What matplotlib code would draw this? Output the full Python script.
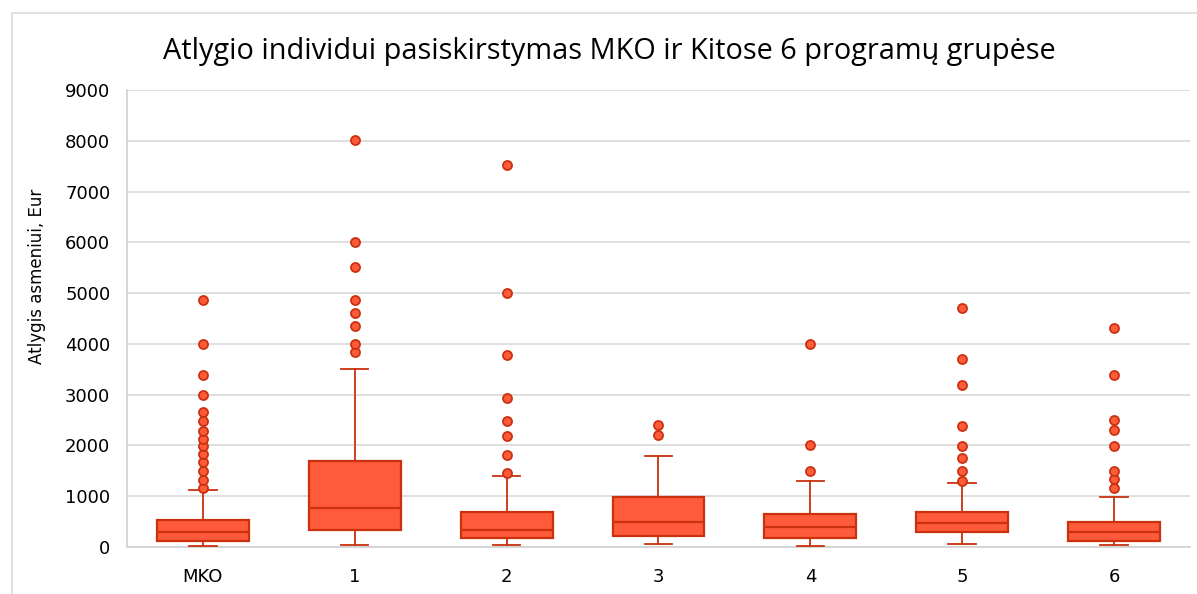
import matplotlib
matplotlib.use("Agg")
import matplotlib.pyplot as plt
from matplotlib.patches import Rectangle


# -----------------------------
# Data
# -----------------------------

groups = ["MKO", "1", "2", "3", "4", "5", "6"]

whisker_low = [20, 40, 33, 60, 20, 60, 40]
q1 = [118, 328, 184, 216, 187, 295, 125]
median = [290, 778, 335, 490, 397, 476, 290]
q3 = [538, 1700, 695, 985, 643, 698, 500]
whisker_high = [1118, 3500, 1390, 1790, 1300, 1254, 980]

outliers = [
    [1165, 1320, 1500, 1677, 1840, 1990, 2135, 2290, 2488, 2658, 3000, 3390, 4000, 4864],
    [3846, 4000, 4352, 4602, 4864, 5508, 6006, 8021],
    [1450, 1805, 2190, 2481, 2934, 3790, 5002, 7516],
    [2200, 2400],
    [1500, 2000, 4000],
    [1300, 1500, 1745, 1995, 2375, 3195, 3702, 4700],
    [1155, 1339, 1503, 1995, 2310, 2494, 3394, 4306],
]

y_ticks = [0, 1000, 2000, 3000, 4000, 5000, 6000, 7000, 8000, 9000]

title = "Atlygio individui pasiskirstymas MKO ir Kitose 6 programų grupėse"
y_label = "Atlygis asmeniui, Eur"


# -----------------------------
# Styling
# -----------------------------

fill_color = "#FF5A3A"
edge_color = "#C9310F"
grid_color = "#DCDCDC"

stats = []
for i in range(len(groups)):
    stats.append({
        "label": groups[i],
        "whislo": whisker_low[i],
        "q1": q1[i],
        "med": median[i],
        "q3": q3[i],
        "whishi": whisker_high[i],
        "fliers": outliers[i],
    })


# -----------------------------
# Plot
# -----------------------------

fig = plt.figure(figsize=(11.97, 5.94), dpi=100)
ax = fig.add_axes([0.1061, 0.0791, 0.888, 0.7694])

ax.bxp(
    stats,
    positions=range(1, len(groups) + 1),
    widths=0.605,
    patch_artist=True,
    showfliers=True,
    boxprops=dict(facecolor=fill_color, edgecolor=edge_color, linewidth=1.6),
    medianprops=dict(color=edge_color, linewidth=1.6),
    whiskerprops=dict(color=edge_color, linewidth=1.3),
    capprops=dict(color=edge_color, linewidth=1.3),
    capwidths=0.18,
    flierprops=dict(marker="o", markerfacecolor=fill_color,
                    markeredgecolor=edge_color, markersize=6.5,
                    markeredgewidth=1.3, linestyle="none"),
    zorder=3,
)

ax.set_xlim(0.5, len(groups) + 0.5)
ax.set_ylim(0, 9000)
ax.set_yticks(y_ticks)
ax.set_yticklabels([str(t) for t in y_ticks])
ax.tick_params(axis="both", length=0, labelsize=13, colors="#000000")
ax.tick_params(axis="y", pad=12)
ax.tick_params(axis="x", pad=15)

ax.grid(axis="y", color=grid_color, linewidth=1.3, zorder=0)
ax.set_axisbelow(True)

for side in ["top", "right"]:
    ax.spines[side].set_visible(False)
for side in ["left", "bottom"]:
    ax.spines[side].set_color("#D0D0D0")
    ax.spines[side].set_linewidth(1.2)

fig.text(0.031, 0.534, y_label, rotation=90, ha="center", va="center",
         fontsize=12)
fig.text(0.509, 0.914, title, ha="center", va="center",
         fontsize=20.8, family="Open Sans")

# thin chart border like the original
fig.patches.append(Rectangle((12 / 1197, -0.1), 1.2, 1 - 13 / 594 + 0.1,
                             transform=fig.transFigure, fill=False,
                             edgecolor=grid_color, linewidth=1.2))

plt.savefig("out.png", dpi=100)
